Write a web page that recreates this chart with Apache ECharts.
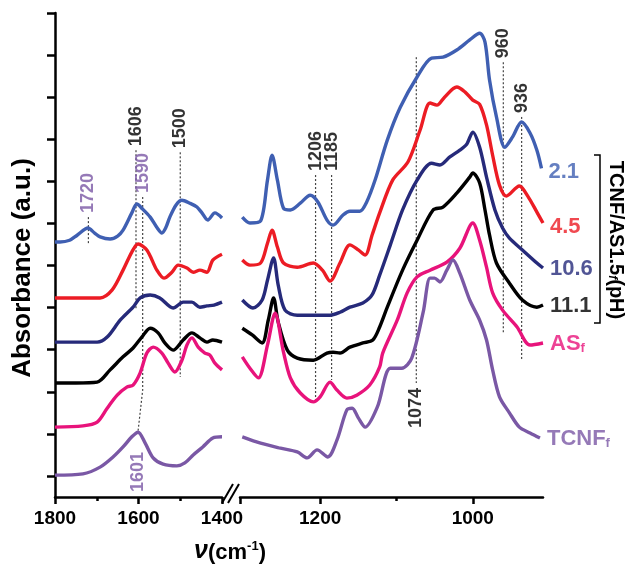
<!DOCTYPE html>
<html><head><meta charset="utf-8">
<script src="https://cdn.jsdelivr.net/npm/echarts@6/dist/echarts.min.js"></script>
<style>html,body{margin:0;padding:0;background:#fff}#c{width:635px;height:566px}</style>
</head><body><div id="c"></div>
<script>
// ---- tick labels ----
const xLabelsLeft = [1800, 1600, 1400];
const xMinorLeft = [1700, 1500];
const xLabelsRight = [1200, 1000];
const xMinorRight = [1100];
const yTicks = [0.5,1.5,2.5,3.5,4.5,5.5,6.5,7.5,8.5,9.5,10.5,11.5];

// ---- spectra [wavenumber, offset absorbance] ----
const ph21L = [[1800,6.06],[1788,6.06],[1765,6.10],[1747,6.22],[1721,6.39],[1705,6.27],[1692,6.18],[1668,6.13],[1650,6.20],[1637,6.34],[1616,6.75],[1604,6.96],[1590,6.84],[1572,6.65],[1555,6.39],[1544,6.27],[1535,6.39],[1525,6.65],[1510,6.94],[1496,7.05],[1477,6.98],[1460,6.89],[1448,6.75],[1434,6.58],[1417,6.75],[1400,6.63]];
const ph21R = [[1302,6.65],[1292,6.51],[1278,6.56],[1269,7.53],[1263,8.12],[1256,7.53],[1248,6.86],[1239,6.82],[1226,6.98],[1213,7.17],[1203,7.01],[1191,6.58],[1183,6.46],[1170,6.70],[1161,6.79],[1148,6.79],[1139,7.01],[1128,7.53],[1112,8.48],[1095,9.26],[1073,9.98],[1054,10.43],[1039,10.45],[1021,10.62],[1004,10.86],[991,11.02],[984,10.81],[978,9.90],[969,9.03],[958,8.31],[948,8.55],[936,8.91],[925,8.65],[916,8.24],[910,7.81]];

const ph45L = [[1800,4.73],[1750,4.73],[1692,4.73],[1663,4.92],[1637,5.39],[1616,5.82],[1601,6.01],[1580,5.87],[1556,5.39],[1539,5.20],[1520,5.34],[1505,5.51],[1484,5.44],[1469,5.34],[1453,5.39],[1436,5.34],[1422,5.63],[1400,5.77]];
const ph45R = [[1302,5.63],[1292,5.51],[1278,5.56],[1269,6.03],[1263,6.34],[1256,5.94],[1248,5.56],[1230,5.46],[1209,5.56],[1197,5.39],[1187,5.13],[1174,5.56],[1161,5.99],[1150,5.87],[1141,5.75],[1132,6.22],[1122,6.75],[1105,7.53],[1085,7.96],[1069,8.72],[1056,9.36],[1047,9.31],[1037,9.50],[1021,9.74],[1010,9.62],[1000,9.43],[991,9.33],[982,8.84],[974,8.12],[965,7.41],[956,7.15],[939,7.39],[928,7.15],[916,6.77],[908,6.51]];

const ph106L = [[1800,3.68],[1750,3.68],[1699,3.68],[1675,3.80],[1644,4.20],[1613,4.51],[1596,4.73],[1572,4.80],[1549,4.73],[1517,4.49],[1493,4.63],[1472,4.63],[1453,4.51],[1436,4.54],[1419,4.56],[1400,4.63]];
const ph106R = [[1302,4.68],[1288,4.49],[1276,4.68],[1269,5.15],[1261,5.68],[1255,5.04],[1246,4.44],[1230,4.32],[1209,4.32],[1187,4.32],[1174,4.39],[1161,4.51],[1144,4.61],[1132,4.80],[1122,5.27],[1108,5.99],[1092,6.82],[1073,7.53],[1054,7.93],[1043,7.89],[1030,8.08],[1017,8.24],[1008,8.38],[1000,8.67],[991,8.31],[982,7.60],[971,6.82],[961,6.39],[952,6.15],[935,5.87],[916,5.56],[908,5.44]];

const ph111L = [[1800,2.71],[1750,2.71],[1699,2.73],[1668,3.02],[1637,3.33],[1613,3.54],[1592,3.80],[1572,4.01],[1553,3.90],[1537,3.66],[1517,3.49],[1493,3.73],[1472,3.90],[1453,3.78],[1436,3.68],[1422,3.73],[1400,3.68]];
const ph111R = [[1302,4.01],[1289,3.85],[1276,3.66],[1268,4.20],[1261,4.73],[1255,4.16],[1243,3.49],[1230,3.30],[1209,3.25],[1191,3.42],[1183,3.44],[1174,3.42],[1161,3.56],[1144,3.66],[1131,3.73],[1122,4.04],[1112,4.51],[1092,5.39],[1073,6.10],[1052,6.82],[1039,6.89],[1021,7.22],[1004,7.60],[1000,7.70],[991,7.46],[984,6.82],[978,6.22],[969,5.56],[952,5.08],[935,4.68],[916,4.51],[908,4.56]];

const asL = [[1800,1.66],[1733,1.69],[1699,1.78],[1675,2.11],[1651,2.42],[1628,2.61],[1613,2.66],[1596,2.95],[1580,3.42],[1565,3.56],[1544,3.42],[1529,3.18],[1513,2.97],[1496,3.25],[1484,3.61],[1472,3.78],[1457,3.56],[1441,3.42],[1429,3.37],[1417,3.18],[1400,3.02]];
const asR = [[1302,3.33],[1292,3.06],[1281,2.83],[1269,3.61],[1259,4.37],[1248,3.44],[1239,2.83],[1226,2.47],[1209,2.26],[1200,2.38],[1187,2.73],[1178,2.54],[1165,2.35],[1152,2.42],[1135,2.66],[1122,3.09],[1118,3.42],[1099,4.20],[1086,4.85],[1073,5.23],[1056,5.39],[1034,5.58],[1017,5.91],[1000,6.51],[991,6.10],[982,5.46],[974,4.85],[961,4.44],[942,4.04],[925,3.61],[908,3.66]];

const tcnfL = [[1800,0.52],[1733,0.55],[1692,0.71],[1661,0.95],[1637,1.19],[1616,1.43],[1601,1.54],[1584,1.28],[1565,0.93],[1541,0.78],[1508,0.74],[1489,0.81],[1469,1.00],[1446,1.19],[1422,1.40],[1400,1.43]];
const tcnfR = [[1302,1.43],[1278,1.28],[1252,1.16],[1230,1.07],[1217,0.93],[1204,1.12],[1190,0.95],[1178,1.35],[1165,2.07],[1158,2.11],[1150,1.88],[1141,1.66],[1125,2.14],[1108,3.06],[1093,3.06],[1080,3.30],[1065,4.39],[1056,5.20],[1050,5.20],[1043,5.11],[1034,5.39],[1026,5.63],[1017,5.32],[1004,4.68],[991,4.20],[982,3.73],[974,3.02],[965,2.38],[952,2.00],[939,1.66],[925,1.52],[912,1.40]];

// ---- series names (pH / sample) ----
const seriesNames = ['2.1', '4.5', '10.6', '11.1', 'AS', 'TCNF'];
const seriesSubs = ['', '', '', '', 'f', 'f'];

// ---- peak annotations: label, polyline of [wavenumber, absorbance] ----
const peakLeft = [
  ['1720', [[1720, 6.65], [1720, 5.99]]],
  ['1606', [[1606, 8.24], [1606, 4.44]]],
  ['1590', [[1590, 7.13], [1590, 2.54], [1601, 1.57]]],
  ['1500', [[1500, 8.19], [1500, 2.85]]]
];
const peakRight = [
  ['1206', [[1206, 7.65], [1206, 2.26]]],
  ['1185', [[1185, 7.65], [1185, 2.78]]],
  ['1074', [[1074, 10.45], [1074, 2.71]]],
  ['960', [[960, 10.33], [960, 3.90]]],
  ['936', [[936, 9.03], [936, 3.25]]]
];
const peakBelowLabels = [['1074', 1074, 2.71], ['1601', 1601, 1.57]];

// ---- styles ----
const colors = ['#3F5FB2', '#EC1C24', '#262A7A', '#000000', '#E8137B', '#7A58A5'];
const purple = '#7A58A5';
const purpleLabels = ['1720', '1590', '1601'];
const annFont = "'Liberation Sans',Arial,sans-serif";
const boldFont = "'Liberation Sans',Arial,sans-serif";
const annSize = 18;

const leftSets = [ph21L, ph45L, ph106L, ph111L, asL, tcnfL];
const rightSets = [ph21R, ph45R, ph106R, ph111R, asR, tcnfR];

const chart = echarts.init(document.getElementById('c'));
const series = [];
leftSets.forEach((d, i) => series.push({type:'line', xAxisIndex:0, yAxisIndex:0, data:d, showSymbol:false, smooth:0.3, lineStyle:{color:colors[i], width:3.4}, silent:true, z:3}));
rightSets.forEach((d, i) => series.push({type:'line', xAxisIndex:1, yAxisIndex:1, data:d, showSymbol:false, smooth:0.3, lineStyle:{color:colors[i], width:3.4}, silent:true, z:3}));

function addPeaks(list, ax) {
  list.forEach(([lab, pts]) => {
    series.push({type:'line', xAxisIndex:ax, yAxisIndex:ax, data:pts, showSymbol:false, silent:true, z:2,
      lineStyle:{color:'#444', width:1.2, type:[2,2]}});
  });
  series.push({type:'scatter', xAxisIndex:ax, yAxisIndex:ax, symbolSize:0, silent:true, z:4,
    data: list.filter(p => !peakBelowLabels.some(b => b[0] === p[0])).map(([lab, pts]) => ({
      value: pts[0], name: lab, label:{color: purpleLabels.includes(lab) ? purple : '#000'}})),
    label:{show:true, position:'top', distance:4, rotate:90, align:'left', verticalAlign:'middle',
      formatter: p => p.name, fontFamily: annFont, fontSize:annSize, fontWeight:'bold'}
  });
}
addPeaks(peakLeft, 0);
addPeaks(peakRight, 1);
// labels below the dotted lines
series.push({type:'scatter', xAxisIndex:1, yAxisIndex:1, symbolSize:0, silent:true, z:4,
  data:[{value:[peakBelowLabels[0][1], peakBelowLabels[0][2]], name:peakBelowLabels[0][0]}],
  label:{show:true, position:'bottom', distance:5, rotate:90, align:'right', verticalAlign:'middle',
    formatter:p => p.name, fontFamily:annFont, fontSize:annSize, fontWeight:'bold', color:'#000'}});
series.push({type:'scatter', xAxisIndex:0, yAxisIndex:0, symbolSize:0, silent:true, z:4,
  data:[{value:[peakBelowLabels[1][1], peakBelowLabels[1][2]], name:peakBelowLabels[1][0]}],
  label:{show:true, position:'bottom', distance:21, rotate:90, align:'right', verticalAlign:'middle',
    formatter:p => p.name, fontFamily:annFont, fontSize:annSize, fontWeight:'bold', color:purple}});

// end labels
const richFor = c => ({
  m:{fontSize:22, fontWeight:'bold', color:c, fontFamily:boldFont, lineHeight:22, verticalAlign:'top'},
  s:{fontSize:13, fontWeight:'bold', color:c, fontFamily:boldFont, lineHeight:13, padding:[11,0,0,0], verticalAlign:'bottom'}
});
series.push({type:'scatter', xAxisIndex:1, yAxisIndex:1, symbolSize:0, silent:true, z:4,
  data: rightSets.map((d, i) => ({
    value: d[d.length - 1],
    label:{show:true, position:'right', distance:7,
      formatter: '{m|' + seriesNames[i] + '}' + (seriesSubs[i] ? '{s|' + seriesSubs[i] + '}' : ''),
      rich: richFor(colors[i]), offset:[0, i < 2 ? 4 : 1]}
  }))
});

const axisLineStyle = {color:'#000', width:2.5};
const tickFmt = v => String(v);
const option = {
  animation:false,
  backgroundColor:'#fff',
  grid:[{left:55, top:13, width:167, height:484}, {left:240, top:13, width:303, height:484}],
  xAxis:[
    {gridIndex:0, type:'value', min:1400, max:1800, inverse:true, position:'bottom',
      axisLine:{lineStyle:axisLineStyle}, splitLine:{show:false},
      axisTick:{customValues:xLabelsLeft, length:7, lineStyle:axisLineStyle},
      axisLabel:{customValues:xLabelsLeft, formatter:tickFmt, margin:12, fontSize:19, fontWeight:'bold', color:'#000', fontFamily:boldFont}},
    {gridIndex:1, type:'value', min:908, max:1305, inverse:true, position:'bottom',
      axisLine:{lineStyle:axisLineStyle}, splitLine:{show:false},
      axisTick:{customValues:[1305].concat(xLabelsRight), length:7, lineStyle:axisLineStyle},
      axisLabel:{customValues:xLabelsRight, formatter:tickFmt, margin:12, fontSize:19, fontWeight:'bold', color:'#000', fontFamily:boldFont}},
    {gridIndex:0, type:'value', min:1400, max:1800, inverse:true, position:'bottom', offset:0,
      axisLine:{show:false}, splitLine:{show:false}, axisLabel:{show:false},
      axisTick:{customValues:xMinorLeft, length:4, lineStyle:axisLineStyle}},
    {gridIndex:1, type:'value', min:908, max:1305, inverse:true, position:'bottom', offset:0,
      axisLine:{show:false}, splitLine:{show:false}, axisLabel:{show:false},
      axisTick:{customValues:xMinorRight, length:4, lineStyle:axisLineStyle}}
  ],
  yAxis:[
    {gridIndex:0, type:'value', min:0, max:11.5,
      axisLine:{show:true, lineStyle:axisLineStyle}, splitLine:{show:false},
      axisTick:{show:true, customValues:yTicks, length:8, lineStyle:axisLineStyle},
      axisLabel:{show:false}},
    {gridIndex:1, type:'value', min:0, max:11.5, show:false}
  ],
  series: series,
  graphic:[
    {type:'text', x:23, y:268, rotation:Math.PI/2, style:{text:'Absorbance (a.u.)', font:"bold 26px 'Liberation Sans', Arial, sans-serif", fill:'#000', textAlign:'center', textVerticalAlign:'middle'}},
    {type:'text', x:230, y:552, style:{text:'{i|ν}{m|(cm}{p|-1}{m|)}', textAlign:'center', textVerticalAlign:'middle',
      rich:{i:{fontSize:25, fontStyle:'italic', fontWeight:'bold', fontFamily:boldFont, lineHeight:24, verticalAlign:'bottom'},
            m:{fontSize:22, fontWeight:'bold', fontFamily:boldFont, lineHeight:24, verticalAlign:'bottom'},
            p:{fontSize:13, fontWeight:'bold', fontFamily:boldFont, lineHeight:13, verticalAlign:'top'}}}},
    {type:'line', shape:{x1:222, y1:503, x2:233, y2:484}, style:{stroke:'#000', lineWidth:2}},
    {type:'line', shape:{x1:228, y1:503, x2:239, y2:484}, style:{stroke:'#000', lineWidth:2}},
    {type:'polyline', shape:{points:[[594,155],[600,155],[600,323],[594,323]]}, style:{stroke:'#000', lineWidth:1.5, fill:null}},
    {type:'text', x:616, y:240, rotation:-Math.PI/2, style:{text:'{m|TCNF/AS1.5}{s|f}{m|(pH)}', textAlign:'center', textVerticalAlign:'middle',
      rich:{m:{fontSize:20, fontWeight:'bold', fontFamily:boldFont, lineHeight:20, verticalAlign:'top', fill:'#000'},
            s:{fontSize:12, fontWeight:'bold', fontStyle:'italic', fontFamily:boldFont, lineHeight:12, padding:[10,0,0,0], verticalAlign:'bottom'}}}}
  ]
};
chart.setOption(option);
</script></body></html>
